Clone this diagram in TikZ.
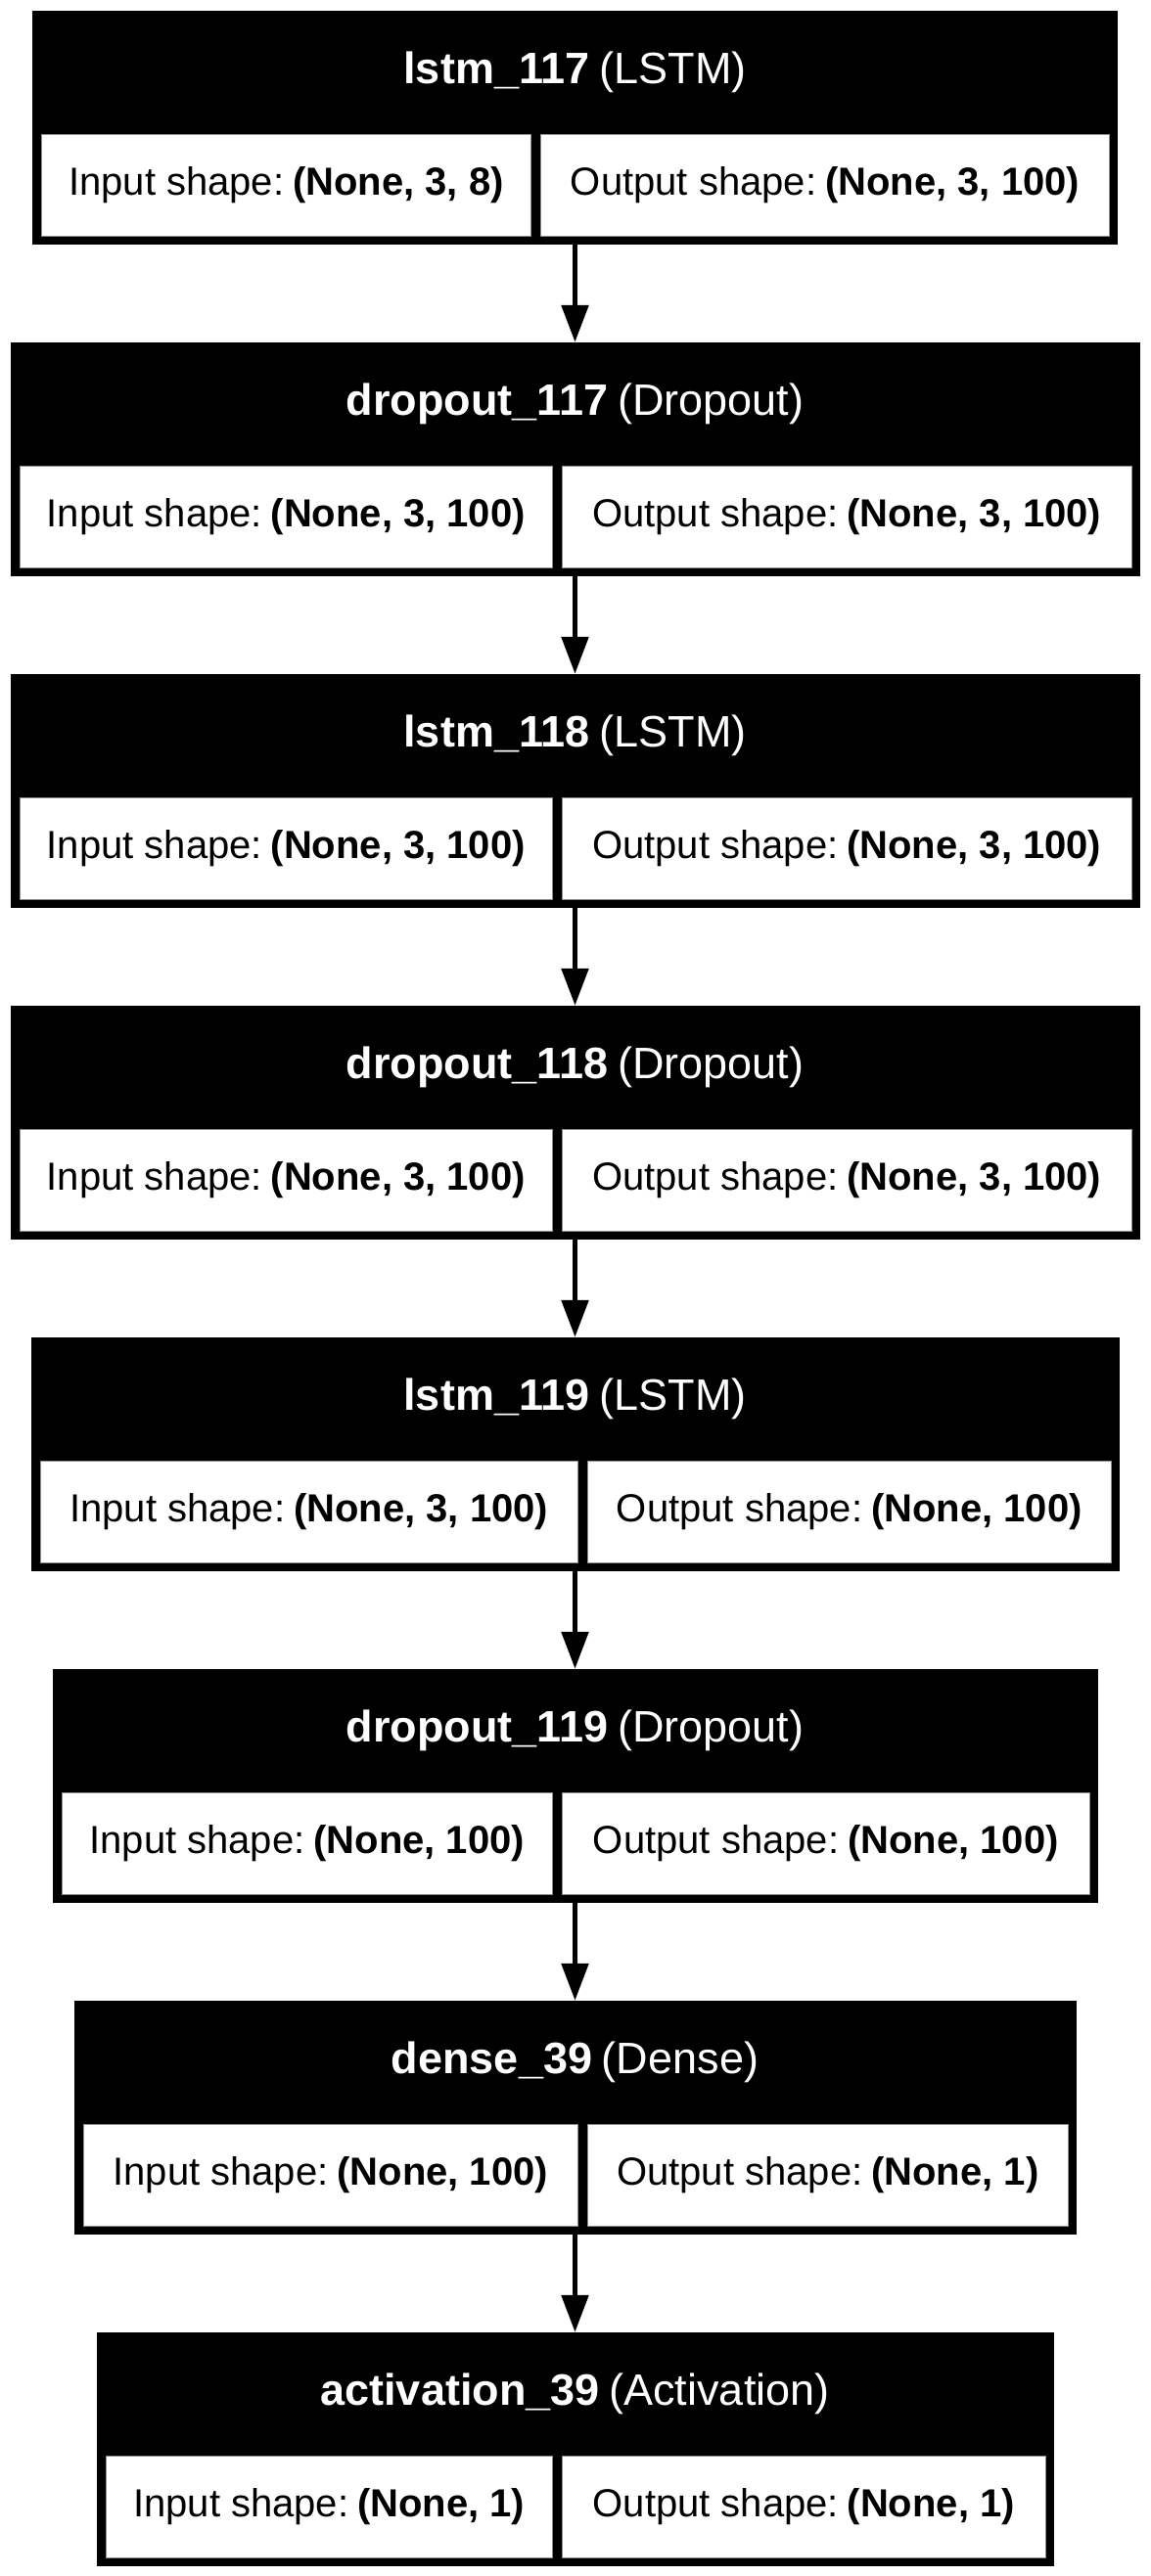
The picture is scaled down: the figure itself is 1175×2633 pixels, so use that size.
\documentclass[tikz,border=0pt]{standalone}
\usepackage{fontspec}
\setmainfont{Liberation Sans}
\usetikzlibrary{arrows.meta}
\tikzset{
  layerbox/.style={draw=none, fill=black, inner sep=0pt, minimum height=239pt},
  cellbox/.style={fill=white, draw=black!45, line width=1pt, inner sep=0pt,
    minimum height=104pt, anchor=north west, text=black,
    font=\fontsize{40}{48}\selectfont},
  headtext/.style={text=white, inner sep=0pt, font=\fontsize{45}{54}\selectfont},
  flow/.style={line width=5.5pt, -{Triangle[width=27pt,length=38pt]}}
}
\newcommand\mylayer[9]{%
  \pgfmathsetmacro\lw{#4-#3}%
  \pgfmathsetmacro\lcx{(#3+#4)/2}%
  \pgfmathsetmacro\lcy{-(#2+119.5)}%
  \pgfmathsetmacro\lhy{-(#2+63)}%
  \pgfmathsetmacro\lty{-(#2+126)}%
  \pgfmathsetmacro\lxa{#3+9}%
  \pgfmathsetmacro\lxb{#5+5}%
  \pgfmathsetmacro\lwa{#5-5-(#3+9)}%
  \pgfmathsetmacro\lwb{#4-9-(#5+5)}%
  \node[layerbox, minimum width=\lw pt] (#1) at (\lcx,\lcy) {};
  \node[headtext] (#1-t) at (\lcx,\lhy) {\textbf{#6}\hspace{0.22em}(#7)};
  \node[cellbox, minimum width=\lwa pt] (#1-in) at (\lxa,\lty) {Input shape:\hspace{0.22em}\textbf{#8}};
  \node[cellbox, minimum width=\lwb pt] (#1-out) at (\lxb,\lty) {Output shape:\hspace{0.22em}\textbf{#9}};
}
\begin{document}
\begin{tikzpicture}[x=1pt,y=1pt]
\useasboundingbox[fill=white] (0,0) rectangle (1175,-2633);
\mylayer{l1}{11}{33}{1142}{547}{lstm\_117}{LSTM}{(None, 3, 8)}{(None, 3, 100)}
\mylayer{l2}{350}{10.5}{1164.5}{569}{dropout\_117}{Dropout}{(None, 3, 100)}{(None, 3, 100)}
\mylayer{l3}{689}{10.5}{1164.5}{569}{lstm\_118}{LSTM}{(None, 3, 100)}{(None, 3, 100)}
\mylayer{l4}{1028}{10.5}{1164.5}{569}{dropout\_118}{Dropout}{(None, 3, 100)}{(None, 3, 100)}
\mylayer{l5}{1367}{31.5}{1143.5}{595}{lstm\_119}{LSTM}{(None, 3, 100)}{(None, 100)}
\mylayer{l6}{1706}{53.5}{1121.5}{569}{dropout\_119}{Dropout}{(None, 100)}{(None, 100)}
\mylayer{l7}{2045}{75.5}{1099.5}{595}{dense\_39}{Dense}{(None, 100)}{(None, 1)}
\mylayer{l8}{2384}{98.5}{1076.5}{569}{activation\_39}{Activation}{(None, 1)}{(None, 1)}
\draw[flow] (l1.south) -- (l2.north);
\draw[flow] (l2.south) -- (l3.north);
\draw[flow] (l3.south) -- (l4.north);
\draw[flow] (l4.south) -- (l5.north);
\draw[flow] (l5.south) -- (l6.north);
\draw[flow] (l6.south) -- (l7.north);
\draw[flow] (l7.south) -- (l8.north);
\end{tikzpicture}
\end{document}
